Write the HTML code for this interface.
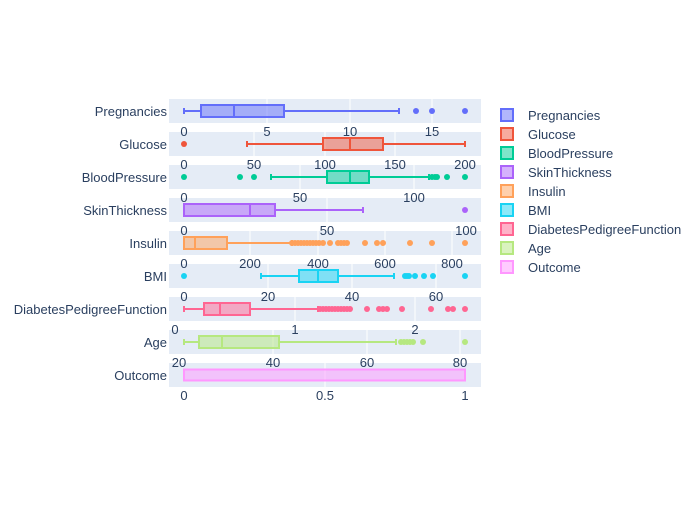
<!DOCTYPE html>
<html><head><meta charset="utf-8"><style>
body{margin:0;background:#fff}
svg text{font-family:"Liberation Sans",sans-serif;font-size:13px;fill:#2a3f5f}
</style></head><body>
<svg width="700" height="500" xmlns="http://www.w3.org/2000/svg" id="s">
<g id="bands"></g>
<g id="plots"></g>
<g text-anchor="end">
<text x="167" y="116">Pregnancies</text>
<text x="167" y="149">Glucose</text>
<text x="167" y="182">BloodPressure</text>
<text x="167" y="215">SkinThickness</text>
<text x="167" y="248">Insulin</text>
<text x="167" y="281">BMI</text>
<text x="167" y="314">DiabetesPedigreeFunction</text>
<text x="167" y="347">Age</text>
<text x="167" y="380">Outcome</text>
</g>
<g text-anchor="middle">
<text x="184" y="136">0</text><text x="267" y="136">5</text><text x="350" y="136">10</text><text x="432" y="136">15</text>
<text x="184" y="169">0</text><text x="254" y="169">50</text><text x="325" y="169">100</text><text x="395" y="169">150</text><text x="465" y="169">200</text>
<text x="184" y="202">0</text><text x="300" y="202">50</text><text x="414" y="202">100</text>
<text x="184" y="235">0</text><text x="327" y="235">50</text><text x="466" y="235">100</text>
<text x="184" y="268">0</text><text x="250" y="268">200</text><text x="318" y="268">400</text><text x="385" y="268">600</text><text x="452" y="268">800</text>
<text x="184" y="301">0</text><text x="268" y="301">20</text><text x="352" y="301">40</text><text x="436" y="301">60</text>
<text x="175" y="334">0</text><text x="295" y="334">1</text><text x="415" y="334">2</text>
<text x="179" y="367">20</text><text x="273" y="367">40</text><text x="367" y="367">60</text><text x="460" y="367">80</text>
<text x="184" y="400">0</text><text x="325" y="400">0.5</text><text x="465" y="400">1</text>
</g>
<g id="legend">
<text x="528" y="120">Pregnancies</text>
<text x="528" y="139">Glucose</text>
<text x="528" y="158">BloodPressure</text>
<text x="528" y="177">SkinThickness</text>
<text x="528" y="196">Insulin</text>
<text x="528" y="215">BMI</text>
<text x="528" y="234">DiabetesPedigreeFunction</text>
<text x="528" y="253">Age</text>
<text x="528" y="272">Outcome</text>
</g>
</svg>
<script>
var NS="http://www.w3.org/2000/svg";
function el(p,t,a){var e=document.createElementNS(NS,t);for(var k in a)e.setAttribute(k,a[k]);p.appendChild(e);return e;}
var B=document.getElementById("bands"),P=document.getElementById("plots"),L=document.getElementById("legend");
var rows=[
{c:"#636efa",g:[267,350,432],w:[184,399],b:[201,284],m:234,o:[416,432,465]},
{c:"#EF553B",g:[254,325,395],w:[247,465],b:[323,383],m:350,o:[184]},
{c:"#00cc96",g:[300,414],w:[271,429],b:[327,369],m:350,o:[184,240,254,432,435,437,447,465]},
{c:"#ab63fa",g:[327],w:[184,363],b:[184,275],m:250,o:[465]},
{c:"#FFA15A",g:[250,318,385,452],w:[184,292],b:[184,227],m:195,o:[292,295,298,301,304,307,310,313,316,319,323,330,338,341,344,347,365,377,383,410,432,465]},
{c:"#19d3f3",g:[268,352,436],w:[261,394],b:[299,338],m:318,o:[184,405,407,409,415,424,433,465]},
{c:"#FF6692",g:[295,415],w:[184,318],b:[204,250],m:220,o:[320,323,326,329,332,335,338,341,344,347,350,367,379,383,387,402,431,448,453,465]},
{c:"#B6E880",g:[273,367,460],w:[184,396],b:[199,279],m:222,o:[401,404,407,410,413,423,465]},
{c:"#FF97FF",g:[325],w:[184,465],b:[184,465],m:184,o:[]}
];
rows.forEach(function(r,i){
 var cy=111+33*i;
 el(B,"rect",{x:169,y:cy-12,width:312,height:24,fill:"#E5ECF6"});
 r.g.forEach(function(x){el(B,"line",{x1:x,x2:x,y1:cy-12,y2:cy+12,stroke:"#fff","stroke-width":1});});
 var h=i==8?5.5:6;
 el(P,"line",{x1:r.w[0],x2:r.b[0],y1:cy,y2:cy,stroke:r.c,"stroke-width":2});
 el(P,"line",{x1:r.b[1],x2:r.w[1],y1:cy,y2:cy,stroke:r.c,"stroke-width":2});
 el(P,"line",{x1:r.w[0],x2:r.w[0],y1:cy-3,y2:cy+3,stroke:r.c,"stroke-width":2});
 el(P,"line",{x1:r.w[1],x2:r.w[1],y1:cy-3,y2:cy+3,stroke:r.c,"stroke-width":2});
 el(P,"rect",{x:r.b[0],y:cy-h,width:r.b[1]-r.b[0],height:2*h,fill:r.c,"fill-opacity":0.5,stroke:r.c,"stroke-width":2});
 el(P,"line",{x1:r.m,x2:r.m,y1:cy-h,y2:cy+h,stroke:r.c,"stroke-width":2});
 r.o.forEach(function(x){el(P,"circle",{cx:x,cy:cy,r:3,fill:r.c});});
 var ly=115+19*i;
 el(L,"rect",{x:501,y:ly-6,width:12,height:12,fill:r.c,"fill-opacity":0.5,stroke:r.c,"stroke-width":2});
});
</script>
</body></html>
